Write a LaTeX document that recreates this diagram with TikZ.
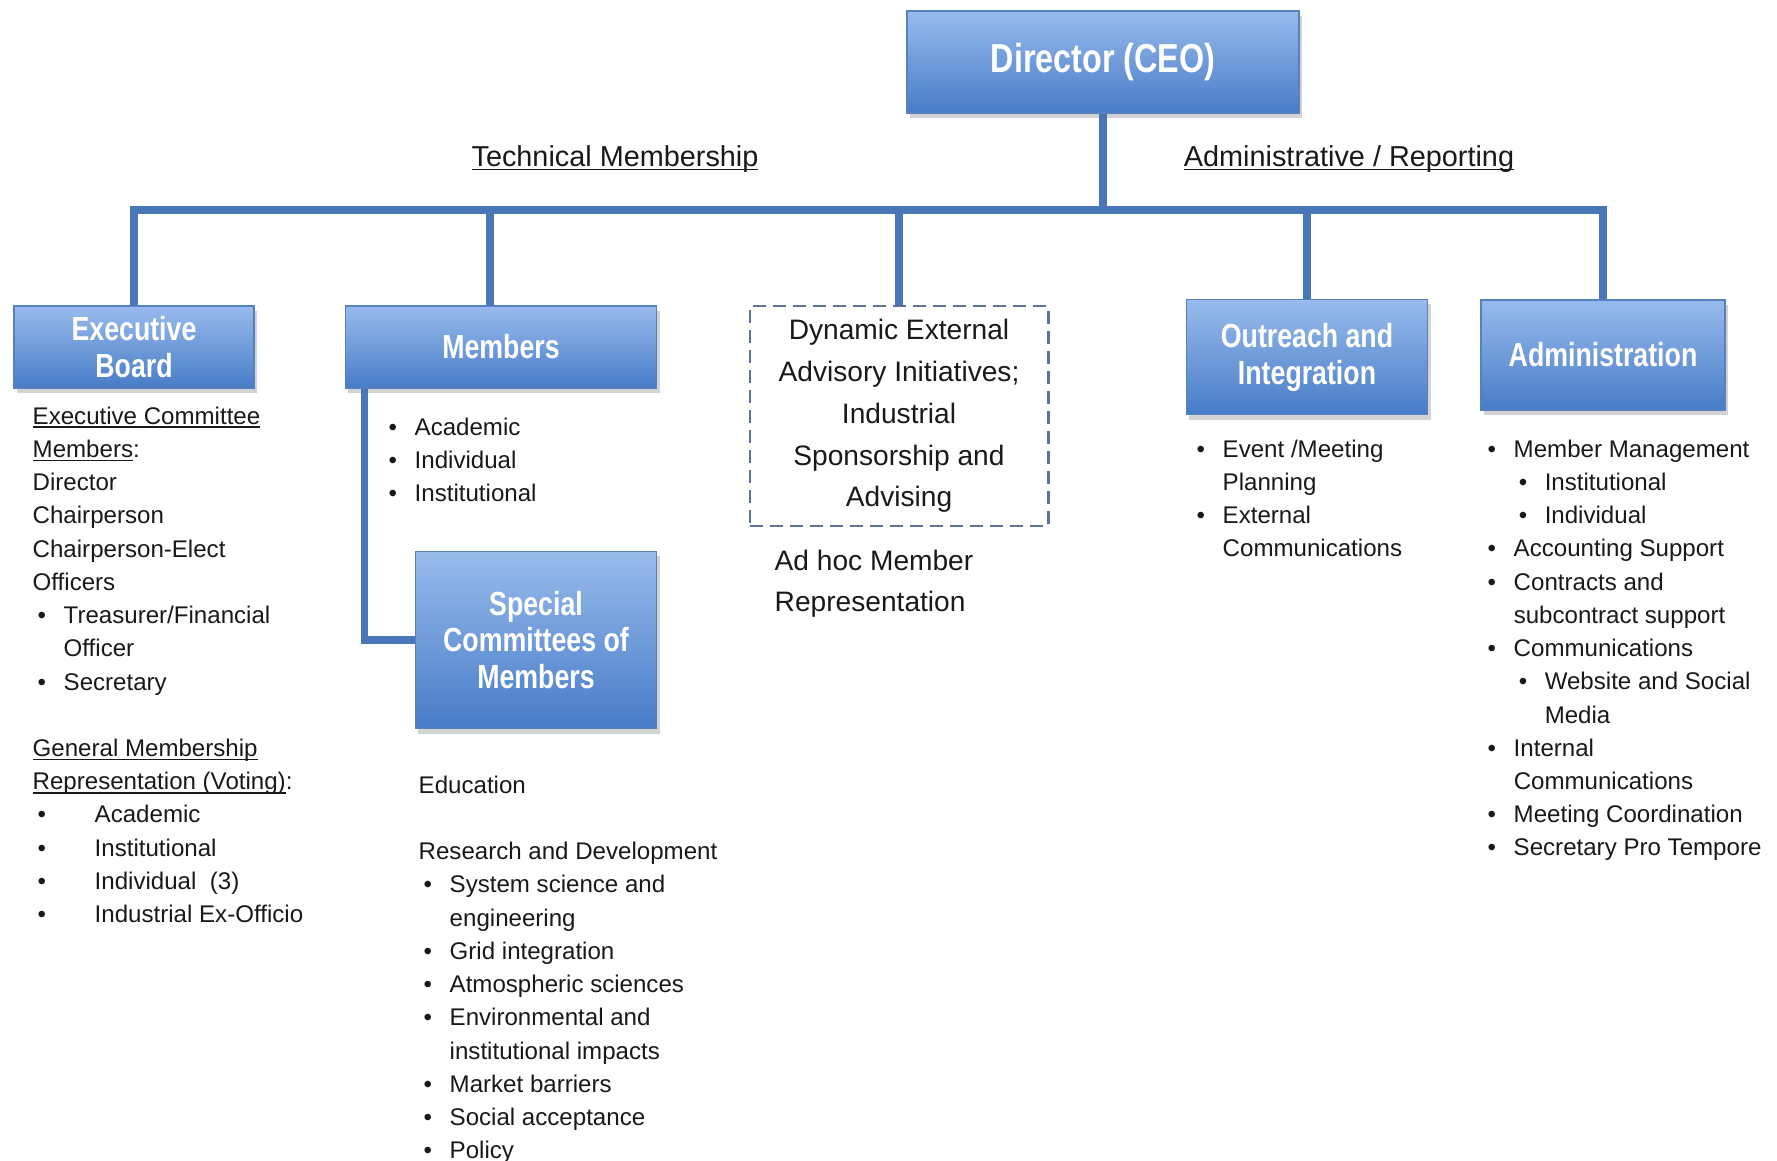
\documentclass[tikz,border=0pt]{standalone}
\usepackage{fontspec}
\setmainfont{Liberation Sans}
\newfontfamily\boxfont[FakeStretch=0.8]{Liberation Sans}
\usetikzlibrary{shadows}
\definecolor{boxtop}{RGB}{152,187,236}
\definecolor{boxbot}{RGB}{72,124,200}
\definecolor{boxedge}{RGB}{86,128,190}
\definecolor{linkblue}{RGB}{72,118,182}
\definecolor{inkgray}{RGB}{25,25,25}
\definecolor{dashgray}{RGB}{95,115,150}
\newcommand\itm[2][0.31cm]{\makebox[#1][l]{\hspace{0.05cm}\textbullet}#2}
\newcommand\cnt[2][0.31cm]{\hspace*{#1}#2}
\newcommand\uln[1]{\setbox0=\hbox{#1}\rlap{\rule[-1.1pt]{\wd0}{0.45pt}}\box0}
\begin{document}
\begin{tikzpicture}[x=0.01cm,y=-0.01cm,
  unit/.style={draw=boxedge,top color=boxtop,bottom color=boxbot,
    drop shadow={opacity=0.35,shadow xshift=0.03cm,shadow yshift=-0.05cm},
    text=white,align=center,inner sep=0,
    font=\boxfont\bfseries\fontsize{9.5}{10.5}\selectfont},
  adv/.style={draw=dashgray,dash pattern=on 0.13cm off 0.07cm,line width=0.8pt,
    align=center,inner sep=0,text=inkgray,font=\fontsize{8}{11.9}\selectfont},
  note/.style={anchor=north west,align=left,inner sep=0,text=inkgray,
    font=\fontsize{6.85}{9.45}\selectfont},
  head/.style={inner sep=0,text=inkgray,font=\fontsize{8.2}{10}\selectfont},
  link/.style={draw=linkblue,line width=2.1pt}]
\useasboundingbox (0,0) rectangle (1777,1160);
% boxes begin
\node[unit,minimum width=3.92cm,minimum height=1.02cm,
  font=\boxfont\bfseries\fontsize{11.5}{13}\selectfont] (ceo) at (1103,62) {Director (CEO)};
\node[unit,minimum width=2.4cm,minimum height=0.82cm] (board) at (134,347) {Executive\\Board};
\node[unit,minimum width=3.11cm,minimum height=0.82cm] (members) at (501,347) {Members};
\node[adv,minimum width=2.98cm,minimum height=2.2cm] (advisory) at (899,416)
  {Dynamic External\\Advisory Initiatives;\\Industrial\\Sponsorship and\\Advising};
\node[unit,minimum width=2.41cm,minimum height=1.15cm] (outreach) at (1307,357) {Outreach and\\Integration};
\node[unit,minimum width=2.44cm,minimum height=1.1cm] (admin) at (1603,355) {Administration};
\node[unit,minimum width=2.41cm,minimum height=1.77cm] (special) at (536,640) {Special\\Committees of\\Members};
% boxes end
\coordinate (busL) at (134,210);
\coordinate (busR) at (1603,210);
\draw[link] (ceo.south) -- (ceo.south |- busL);
\draw[link,line cap=rect] (busL) -- (busR);
\foreach \b in {board,advisory,outreach,admin}
  \draw[link] (\b.north |- busL) -- (\b.north);
\draw[link] ([xshift=-0.11cm]members.north |- busL) -- ([xshift=-0.11cm]members.north);
\draw[link] ([xshift=0.2cm]members.south west) |- (special.west);
\node[head] (tech) at (615,159) {\uln{Technical Membership}};
\node[head] (report) at (1349,159) {\uln{Administrative / Reporting}};
% lists begin
\node[note] (boardlist) at (32,406) {\uln{Executive Committee}\\
  \uln{Members}:\\
  Director\\
  Chairperson\\
  Chairperson-Elect\\
  Officers\\
  \itm{Treasurer/Financial}\\
  \cnt{Officer}\\
  \itm{Secretary}\\[9.45pt]
  \uln{General Membership}\\
  \uln{Representation (Voting)}:\\
  \itm[0.62cm]{Academic}\\
  \itm[0.62cm]{Institutional}\\
  \itm[0.62cm]{Individual~~(3)}\\
  \itm[0.62cm]{Industrial Ex-Officio}};
\node[note] (memberlist) at (383,417) {\itm{Academic}\\
  \itm{Individual}\\
  \itm{Institutional}};
\node[note] (speciallist) at (418,775) {Education\\[9.45pt]
  Research and Development\\
  \itm{System science and}\\
  \cnt{engineering}\\
  \itm{Grid integration}\\
  \itm{Atmospheric sciences}\\
  \itm{Environmental and}\\
  \cnt{institutional impacts}\\
  \itm{Market barriers}\\
  \itm{Social acceptance}\\
  \itm{Policy}};
\node[note,font=\fontsize{8}{11.9}\selectfont] (adhoc) at (774,549) {Ad hoc Member\\Representation};
\node[note] (outreachlist) at (1191,439) {\itm{Event /Meeting}\\
  \cnt{Planning}\\
  \itm{External}\\
  \cnt{Communications}};
\node[note] (adminlist) at (1482,439) {\itm{Member Management}\\
  \cnt{\itm{Institutional}}\\
  \cnt{\itm{Individual}}\\
  \itm{Accounting Support}\\
  \itm{Contracts and}\\
  \cnt{subcontract support}\\
  \itm{Communications}\\
  \cnt{\itm{Website and Social}}\\
  \cnt[0.62cm]{Media}\\
  \itm{Internal}\\
  \cnt{Communications}\\
  \itm{Meeting Coordination}\\
  \itm{Secretary Pro Tempore}};
% lists end
\end{tikzpicture}
\end{document}
